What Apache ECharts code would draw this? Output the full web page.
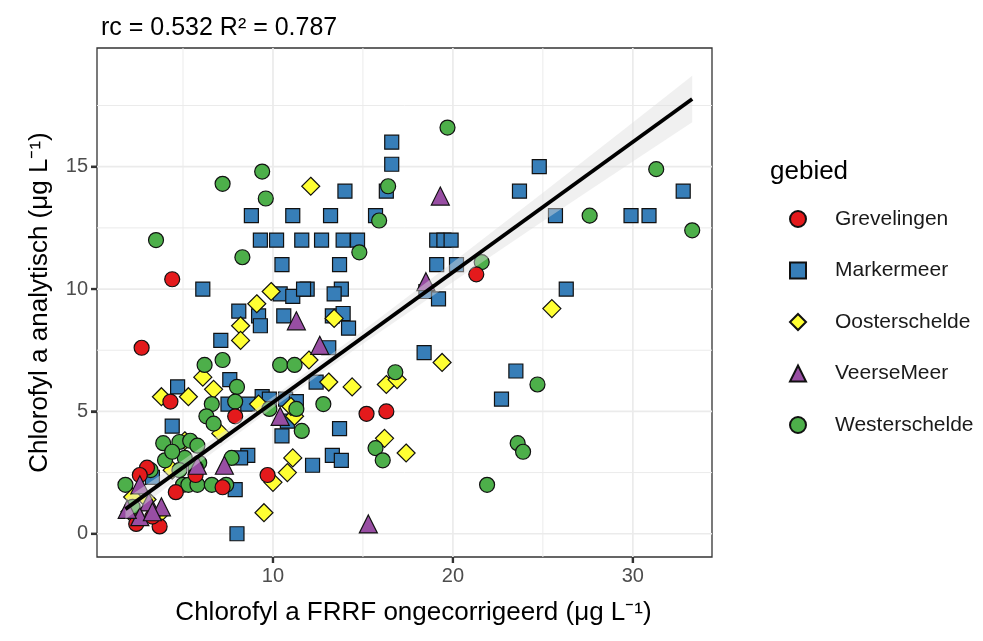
<!DOCTYPE html>
<html>
<head>
<meta charset="utf-8">
<script src="https://cdn.jsdelivr.net/npm/echarts@6/dist/echarts.min.js"></script>
<style>
  html, body { margin: 0; padding: 0; background: #ffffff; }
  #chart { width: 983px; height: 641px; }
</style>
</head>
<body>
<div id="chart"></div>
<script>
// Chlorophyll a: FRRF (uncorrected) vs. analytical, per area [x, y]
const grevelingen = [
  [2.7, 7.6], [4.4, 10.4], [21.3, 10.6], [15.2, 4.9], [16.3, 5.0], [9.7, 2.4],
  [4.3, 5.4], [7.9, 4.8], [3.0, 2.7], [4.6, 1.7], [3.7, 0.3], [2.4, 0.4],
  [7.2, 1.9], [5.7, 2.4], [2.6, 2.4], [3.3, 0.7]
];
const markermeer = [
  [16.6, 16.0], [16.6, 15.1], [24.8, 15.0], [32.8, 14.0], [23.7, 14.0], [14.0, 14.0], [16.3, 14.0],
  [8.8, 13.0], [11.1, 13.0], [13.2, 13.0], [15.7, 13.0], [25.7, 13.0], [29.9, 13.0], [30.9, 13.0],
  [9.3, 12.0], [10.2, 12.0], [11.6, 12.0], [12.7, 12.0], [13.9, 12.0], [14.7, 12.0], [19.1, 12.0], [19.5, 12.0], [19.9, 12.0],
  [10.5, 11.0], [13.7, 11.0], [19.1, 11.0], [20.2, 11.0],
  [6.1, 10.0], [11.9, 10.0], [13.8, 10.0], [13.4, 9.8], [18.5, 9.9], [19.2, 9.6], [26.3, 10.0], [10.4, 9.8], [11.1, 9.7], [11.7, 10.0],
  [8.1, 9.1], [9.2, 8.9], [9.3, 8.5], [10.6, 8.9], [13.3, 8.9], [13.9, 9.0], [14.2, 8.4],
  [13.1, 7.6], [7.1, 7.9], [18.4, 7.4], [23.5, 6.65],
  [4.7, 6.0], [7.6, 6.3], [22.7, 5.5],
  [7.5, 5.3], [8.6, 5.3], [9.4, 5.6], [4.4, 4.4], [10.5, 4.0], [8.6, 3.2], [8.2, 3.1], [8.0, 0.0],
  [13.7, 4.3], [13.3, 3.2], [13.8, 3.0], [12.2, 2.8],
  [10.7, 5.5], [11.3, 5.4], [10.8, 4.6], [3.3, 2.3], [7.9, 1.8], [12.4, 6.2], [9.8, 5.5]
];
const oosterschelde = [
  [12.1, 14.2], [9.9, 9.9], [9.1, 9.4], [8.2, 8.5], [8.2, 7.9], [13.4, 8.8], [12.0, 7.1], [19.4, 7.0],
  [25.5, 9.2], [6.1, 6.4], [3.8, 5.6], [5.3, 5.6], [6.7, 5.9], [9.2, 5.3], [7.1, 4.1], [11.1, 3.1],
  [10.8, 2.5], [10.0, 2.1], [9.5, 0.86], [13.1, 6.2], [14.4, 6.0], [16.3, 6.1], [16.9, 6.3], [16.2, 3.9],
  [17.4, 3.3], [2.2, 1.5], [2.05, 0.9], [11.2, 4.8], [11.0, 5.2], [5.1, 3.8], [3.0, 1.4], [3.7, 0.8], [4.4, 2.6]
];
const veerseMeer = [
  [19.3, 13.8], [18.5, 10.3], [11.3, 8.7], [12.6, 7.7], [15.3, 0.4], [5.8, 2.8], [7.3, 2.8],
  [2.6, 2.0], [3.1, 1.3], [3.8, 1.1], [2.6, 0.7], [3.3, 0.9], [10.4, 4.8], [1.9, 1.0]
];
const westerschelde = [
  [19.7, 16.6], [7.2, 14.3], [9.4, 14.8], [9.6, 13.7], [31.3, 14.9], [16.4, 14.2], [15.9, 12.8],
  [27.6, 13.0], [33.3, 12.4], [3.5, 12.0], [8.3, 11.3], [14.8, 11.5], [21.6, 11.1],
  [6.2, 6.9], [7.2, 7.1], [10.4, 6.9], [11.2, 6.9], [16.8, 6.6], [24.7, 6.1], [8.0, 6.0],
  [6.6, 5.3], [7.9, 5.4], [6.3, 4.8], [6.7, 4.5], [12.8, 5.3], [11.6, 4.2], [15.7, 3.5],
  [16.1, 3.0], [23.6, 3.7], [23.9, 3.35], [21.9, 2.0], [7.7, 3.1],
  [3.9, 3.7], [4.8, 3.75], [5.4, 3.8], [5.8, 3.6], [4.0, 3.0], [5.1, 3.1], [5.9, 2.9],
  [4.8, 2.6], [5.7, 2.7], [4.4, 3.35],
  [5.0, 2.0], [5.3, 2.0], [5.8, 2.0], [6.6, 2.0], [7.4, 2.0], [1.8, 2.0],
  [11.3, 5.1], [9.8, 5.1], [3.2, 2.6], [2.2, 1.1]
];

// Linear fit (slope rc, R²) and its confidence band half-widths
const fitSlope = 0.532;
const fitIntercept = 0.05;
const fitR2 = 0.787;
const fitXRange = [1.8, 33.3];
const bandX = [1.8, 5, 10, 15, 20, 25, 30, 33.3];
const bandHalf = [0.42, 0.3, 0.22, 0.27, 0.4, 0.58, 0.8, 0.95];

// Axes
const xTicks = [10, 20, 30];
const xMinor = [5, 15, 25];
const yTicks = [0, 5, 10, 15];
const yMinor = [2.5, 7.5, 12.5, 17.5];
const X_MIN = 0.22, X_MAX = 34.4;
const Y_MIN = -0.95, Y_MAX = 19.85;

const FONT = "'Liberation Sans', Arial, sans-serif";
const colors = {
  Grevelingen: '#E41A1C',
  Markermeer: '#377EB8',
  Oosterschelde: '#FFFF33',
  VeerseMeer: '#984EA3',
  Westerschelde: '#4DAF4A'
};

// Panel grid lines spanning the full plotting range
function gridLines(values, dir, width) {
  return {
    type: 'custom',
    silent: true,
    z: 1,
    data: values.map(v => dir === 'x' ? [v, Y_MIN] : [X_MIN, v]),
    renderItem(params, api) {
      const a = dir === 'x' ? api.coord([api.value(0), Y_MIN]) : api.coord([X_MIN, api.value(1)]);
      const b = dir === 'x' ? api.coord([api.value(0), Y_MAX]) : api.coord([X_MAX, api.value(1)]);
      return {
        type: 'line',
        shape: { x1: a[0], y1: a[1], x2: b[0], y2: b[1] },
        style: { stroke: '#EBEBEB', lineWidth: width }
      };
    }
  };
}

// Short outward tick marks on the bottom and left panel edges
function tickMarks(values, dir) {
  const LEN = 6;
  return {
    type: 'custom',
    silent: true,
    z: 10,
    clip: false,
    data: values.map(v => dir === 'x' ? [v, Y_MIN] : [X_MIN, v]),
    renderItem(params, api) {
      const p = api.coord([api.value(0), api.value(1)]);
      const shape = dir === 'x'
        ? { x1: p[0], y1: p[1], x2: p[0], y2: p[1] + LEN }
        : { x1: p[0], y1: p[1], x2: p[0] - LEN, y2: p[1] };
      return { type: 'line', shape, style: { stroke: '#333333', lineWidth: 2.2 } };
    }
  };
}

function pointSeries(name, data, symbol, size) {
  return {
    name, type: 'scatter', data, symbol, symbolSize: size, z: 3,
    itemStyle: { color: colors[name], borderColor: '#111111', borderWidth: 1.2, opacity: 1 },
    emphasis: { disabled: true }
  };
}

const bandData = bandX.map((x, i) => {
  const c = fitSlope * x + fitIntercept;
  return [x, c - bandHalf[i], c + bandHalf[i]];
});

const axisTickStyle = { show: true, length: 6, lineStyle: { color: '#333333', width: 2.2 } };

const option = {
  backgroundColor: '#ffffff',
  animation: false,
  textStyle: { fontFamily: FONT },
  title: [
    {
      text: 'rc = 0.532 R² = ' + fitR2.toFixed(3),
      left: 96, top: 11,
      textStyle: { fontFamily: FONT, fontSize: 25, fontWeight: 'normal', color: '#000' }
    },
    {
      text: 'gebied',
      left: 765, top: 154,
      textStyle: { fontFamily: FONT, fontSize: 26, fontWeight: 'normal', color: '#000' }
    }
  ],
  grid: {
    left: 97, right: 271, top: 48, bottom: 84,
    show: true, borderColor: '#333333', borderWidth: 1.3, backgroundColor: '#ffffff'
  },
  legend: {
    orient: 'vertical', left: 784, top: 203, itemGap: 29.5,
    itemWidth: 16, itemHeight: 16,
    data: ['Grevelingen', 'Markermeer', 'Oosterschelde', 'VeerseMeer', 'Westerschelde'],
    textStyle: { fontFamily: FONT, fontSize: 21, color: '#1a1a1a', padding: [0, 0, 0, 24], lineHeight: 22 }
  },
  xAxis: {
    type: 'value', min: X_MIN, max: X_MAX,
    splitLine: { show: false },
    axisLine: { show: false, onZero: false },
    axisTick: Object.assign({ customValues: xTicks }, axisTickStyle),
    axisLabel: { customValues: xTicks, color: '#4D4D4D', fontSize: 20, margin: 9, fontFamily: FONT },
    name: 'Chlorofyl a FRRF ongecorrigeerd (μg L⁻¹)',
    nameLocation: 'middle', nameGap: 43,
    nameTextStyle: { fontSize: 26, color: '#000', fontFamily: FONT, padding: [0, 0, 0, 18] }
  },
  yAxis: {
    type: 'value', min: Y_MIN, max: Y_MAX,
    splitLine: { show: false },
    axisLine: { show: false, onZero: false },
    axisTick: Object.assign({ customValues: yTicks }, axisTickStyle),
    axisLabel: { customValues: yTicks, color: '#4D4D4D', fontSize: 20, margin: 9, fontFamily: FONT },
    name: 'Chlorofyl a analytisch (μg L⁻¹)',
    nameLocation: 'middle', nameGap: 44,
    nameTextStyle: { fontSize: 26, color: '#000', fontFamily: FONT }
  },
  series: [
    gridLines(xMinor, 'x', 1.0),
    gridLines(yMinor, 'y', 1.0),
    gridLines(xTicks, 'x', 1.7),
    gridLines(yTicks, 'y', 1.7),
    tickMarks(xTicks, 'x'),
    tickMarks(yTicks, 'y'),
    pointSeries('Markermeer', markermeer, 'rect', 14),
    pointSeries('Oosterschelde', oosterschelde, 'diamond', 18),
    pointSeries('Westerschelde', westerschelde, 'circle', 15),
    pointSeries('Grevelingen', grevelingen, 'circle', 15),
    pointSeries('VeerseMeer', veerseMeer, 'triangle', 18),
    {
      type: 'custom', silent: true, z: 4,
      data: bandData,
      encode: { x: 0, y: [1, 2] },
      renderItem(params, api) {
        if (params.dataIndex !== 0) return null;
        const upper = bandData.map(d => api.coord([d[0], d[2]]));
        const lower = bandData.slice().reverse().map(d => api.coord([d[0], d[1]]));
        return {
          type: 'polygon',
          shape: { points: upper.concat(lower) },
          style: { fill: 'rgba(222,222,222,0.45)', stroke: null }
        };
      }
    },
    {
      type: 'line', z: 5, silent: true, symbol: 'none',
      data: fitXRange.map(x => [x, fitSlope * x + fitIntercept]),
      lineStyle: { color: '#000000', width: 3.8 }
    }
  ]
};

const chart = echarts.init(document.getElementById('chart'), null, { renderer: 'canvas' });
chart.setOption(option);
</script>
</body>
</html>
